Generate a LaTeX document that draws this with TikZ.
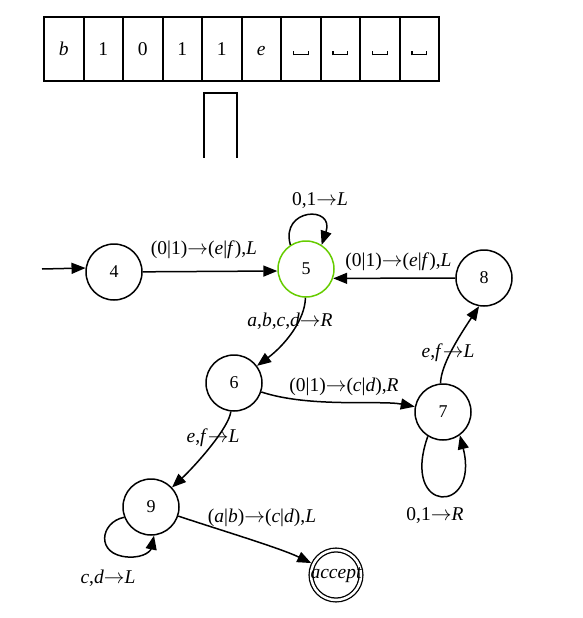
\documentclass[tikz,border=0pt]{standalone}
\usepackage{fontspec}
\setmainfont{Liberation Serif}
\usetikzlibrary{arrows.meta}
\definecolor{stgreen}{RGB}{102,204,0}
\newcommand{\iv}[1]{\textit{#1}}
\newcommand{\ar}{\ensuremath{\rightarrow}}
\newcommand{\blanksym}{\mbox{\vrule height 4.5pt depth 0pt width 1.1pt\vrule height 1.1pt depth 0pt width 13.5pt\vrule height 4.5pt depth 0pt width 1.1pt}}
\begin{document}
\begin{tikzpicture}[x=1pt,y=-1pt,
  st/.style={circle,draw,line width=1.5pt,minimum size=56pt,inner sep=0pt,font=\fontsize{18}{20}\selectfont},
  acceptst/.style={circle,draw,line width=1.3pt,double,double distance=2.5pt,minimum size=50pt,inner sep=0pt,outer sep=2.5pt,font=\fontsize{19.5}{21}\selectfont\itshape},
  lbl/.style={font=\fontsize{19.5}{21}\selectfont,inner sep=0pt,anchor=base},
  edge/.style={line width=1.5pt,-{Triangle[length=14pt,width=11pt]}},
  cell/.style={draw,line width=2pt,minimum width=39.5pt,minimum height=64pt,inner sep=0pt,text height=13pt,text depth=0pt,font=\fontsize{19.5}{21}\selectfont},
  headst/.style={line width=2pt}]
\useasboundingbox (0,0) rectangle (582,618);
% tape
\node[cell] (c0) at (63.75,49) {\iv{b}};
\node[cell] (c1) at (103.25,49) {1};
\node[cell] (c2) at (142.75,49) {0};
\node[cell] (c3) at (182.25,49) {1};
\node[cell] (c4) at (221.75,49) {1};
\node[cell] (c5) at (261.25,49) {\iv{e}};
\node[cell] (c6) at (300.75,49) {\blanksym};
\node[cell] (c7) at (340.25,49) {\blanksym};
\node[cell] (c8) at (379.75,49) {\blanksym};
\node[cell] (c9) at (419.25,49) {\blanksym};
% head
\draw[headst] (203.5,157.5) -- (203.5,93) -- (236.5,93) -- (236.5,157.5);
% states
\node[st] (n4) at (114,272) {4};
\node[st,draw=stgreen] (n5) at (306,269) {5};
\node[st] (n8) at (484,278) {8};
\node[st] (n7) at (443,412) {7};
\node[st] (n6) at (234,383) {6};
\node[st] (n9) at (151,507) {9};
\node[acceptst] (acc) at (336,575) {\makebox[0pt]{accept}};
\coordinate (s0) at (42,269);
% edges
\draw[edge] (s0) -- (n4.172);
\draw[edge] (n4) -- (n5.184);
\draw[edge] (n5.123) .. controls (280,208) and (335,205) .. (n5.57);
\draw[edge] (n8) -- (n5.-19);
\draw[edge] (n5) .. controls (305,320) and (285,345) .. (n6);
\draw[edge] (n6) .. controls (310,408) and (380,400) .. (n7);
\draw[edge] (n7.95) .. controls (441,365) and (458,338) .. (n8.-100);
\draw[edge] (n7.238) .. controls (400,515) and (480,515) .. (n7.306);
\draw[edge] (n6) .. controls (229,428) and (195,466) .. (n9);
\draw[edge] (n9.201) .. controls (100,522) and (95,555) .. (128,557) .. controls (145,558) and (151,550) .. (n9.276);
\draw[edge] (n9) .. controls (220,530) and (280,548) .. (acc);
% labels
\node[lbl] (l45) at (204,254) {(0|1)\ar(\iv{e}|\iv{f}),\iv{L}};
\node[lbl] (l55) at (320,205) {0,1\ar\iv{L}};
\node[lbl] (l85) at (398.5,266) {(0|1)\ar(\iv{e}|\iv{f}),\iv{L}};
\node[lbl] (l56) at (290,326) {\iv{a},\iv{b},\iv{c},\iv{d}\ar\iv{R}};
\node[lbl] (l67) at (344,391) {(0|1)\ar(\iv{c}|\iv{d}),\iv{R}};
\node[lbl] (l78) at (448,357) {\iv{e},\iv{f}\ar\iv{L}};
\node[lbl] (l77) at (435,520) {0,1\ar\iv{R}};
\node[lbl] (l69) at (213,442) {\iv{e},\iv{f}\ar\iv{L}};
\node[lbl] (l99) at (108,583) {\iv{c},\iv{d}\ar\iv{L}};
\node[lbl] (l9a) at (262,522) {(\iv{a}|\iv{b})\ar(\iv{c}|\iv{d}),\iv{L}};
\end{tikzpicture}
\end{document}
